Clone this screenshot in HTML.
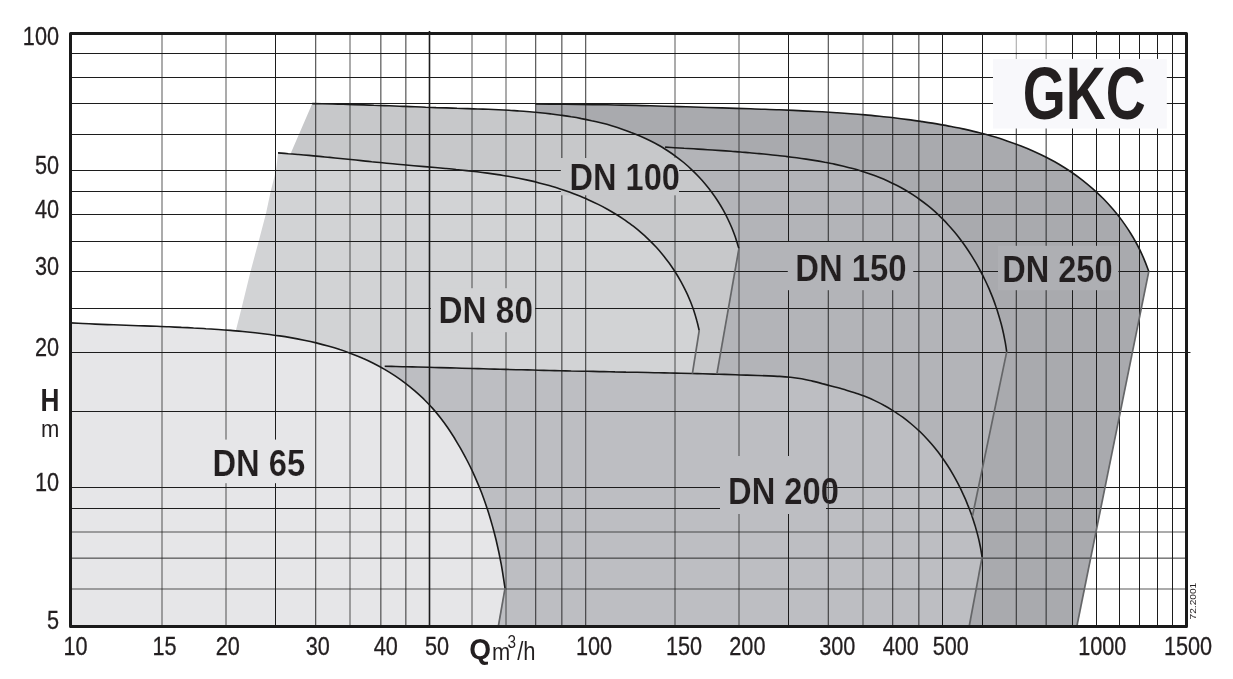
<!DOCTYPE html>
<html lang="en"><head><meta charset="utf-8"><title>GKC - Q/H performance chart</title>
<style>html,body{margin:0;padding:0;background:#fff}body{width:1233px;height:679px;overflow:hidden}svg{display:block}text{font-family:"Liberation Sans",Arial,Helvetica,sans-serif;fill:#231f20}.b{font-weight:bold}</style></head><body>
<svg width="1233" height="679" viewBox="0 0 1233 679">
<rect width="1233" height="679" fill="#fff"/>
<g stroke="none">
<path fill="#a9aaae" d="M535.5 104.0 C537.9 104.0 545.1 104.0 549.9 104.1 C554.7 104.1 559.5 104.1 564.3 104.2 C569.1 104.2 573.8 104.3 578.6 104.4 C583.4 104.4 588.2 104.5 593.0 104.6 C597.8 104.6 602.6 104.7 607.3 104.8 C612.1 104.9 616.9 105.0 621.7 105.1 C626.5 105.2 631.3 105.3 636.0 105.4 C640.8 105.6 645.6 105.7 650.4 105.8 C655.2 105.9 659.9 106.1 664.7 106.2 C669.5 106.3 674.3 106.5 679.0 106.6 C683.8 106.7 688.6 106.9 693.4 107.0 C698.1 107.2 702.9 107.3 707.7 107.5 C712.4 107.6 717.2 107.8 722.0 107.9 C726.8 108.1 731.5 108.2 736.3 108.4 C741.1 108.5 745.9 108.7 750.6 108.8 C755.4 109.0 760.2 109.2 764.9 109.3 C769.7 109.5 774.5 109.7 779.3 109.8 C784.0 110.0 788.8 110.2 793.6 110.4 C798.3 110.6 803.1 110.9 807.9 111.1 C812.7 111.3 817.4 111.6 822.2 111.8 C827.0 112.1 831.7 112.4 836.5 112.7 C841.3 113.0 846.1 113.4 850.8 113.7 C855.6 114.1 860.4 114.5 865.2 114.9 C869.9 115.3 874.7 115.8 879.5 116.3 C884.3 116.7 889.1 117.3 893.8 117.8 C898.6 118.4 903.4 119.0 908.2 119.6 C913.0 120.2 917.7 120.9 922.5 121.6 C927.3 122.3 932.1 123.1 936.9 123.9 C941.6 124.7 946.4 125.5 951.2 126.5 C955.9 127.4 960.6 128.4 965.4 129.4 C970.1 130.5 974.8 131.6 979.4 132.8 C984.1 134.0 988.7 135.2 993.3 136.6 C997.9 137.9 1002.5 139.4 1007.0 140.9 C1011.5 142.4 1016.0 144.0 1020.4 145.8 C1024.8 147.5 1029.2 149.3 1033.5 151.2 C1037.8 153.1 1042.0 155.1 1046.2 157.3 C1050.4 159.4 1054.5 161.7 1058.6 164.0 C1062.6 166.4 1066.6 168.9 1070.5 171.5 C1074.4 174.2 1078.2 176.9 1082.0 179.8 C1085.7 182.7 1089.3 185.7 1092.9 188.8 C1096.4 191.9 1099.8 195.2 1103.2 198.5 C1106.5 201.9 1109.7 205.4 1112.8 209.0 C1115.9 212.6 1118.9 216.3 1121.7 220.1 C1124.5 224.0 1127.3 227.9 1129.8 232.0 C1132.4 236.0 1134.8 240.2 1137.1 244.5 C1139.4 248.8 1141.5 253.1 1143.4 257.6 C1145.4 262.1 1147.9 269.1 1148.8 271.4 L1076.9 626.0 L535 626 Z"/>
<path fill="#b3b4b8" d="M665.1 147.1 C666.7 147.2 671.4 147.5 674.6 147.7 C677.8 147.9 680.9 148.1 684.1 148.3 C687.2 148.4 690.4 148.6 693.5 148.8 C696.6 149.0 699.8 149.2 702.9 149.4 C706.0 149.6 709.2 149.8 712.3 150.0 C715.4 150.2 718.5 150.4 721.6 150.6 C724.8 150.9 727.9 151.1 731.0 151.3 C734.1 151.5 737.2 151.8 740.4 152.0 C743.5 152.3 746.6 152.5 749.7 152.8 C752.8 153.1 756.0 153.3 759.1 153.6 C762.2 153.9 765.3 154.2 768.4 154.5 C771.6 154.9 774.7 155.2 777.8 155.5 C781.0 155.9 784.1 156.2 787.2 156.6 C790.4 157.0 793.5 157.4 796.7 157.8 C799.8 158.2 803.0 158.7 806.1 159.1 C809.3 159.6 812.4 160.1 815.6 160.6 C818.7 161.1 821.8 161.7 825.0 162.3 C828.1 162.8 831.2 163.5 834.3 164.1 C837.4 164.8 840.5 165.5 843.6 166.2 C846.7 167.0 849.7 167.8 852.8 168.6 C855.8 169.4 858.8 170.3 861.8 171.2 C864.8 172.2 867.8 173.2 870.8 174.2 C873.7 175.3 876.7 176.4 879.6 177.5 C882.5 178.7 885.3 179.9 888.2 181.2 C891.0 182.5 893.8 183.9 896.6 185.3 C899.3 186.7 902.1 188.2 904.8 189.8 C907.5 191.4 910.1 193.0 912.7 194.7 C915.3 196.4 917.9 198.1 920.4 200.0 C923.0 201.8 925.4 203.7 927.9 205.7 C930.3 207.6 932.7 209.6 935.0 211.7 C937.3 213.8 939.6 216.0 941.8 218.2 C944.1 220.4 946.2 222.6 948.3 225.0 C950.5 227.3 952.5 229.7 954.5 232.1 C956.5 234.5 958.5 237.0 960.4 239.5 C962.3 242.0 964.2 244.6 966.0 247.2 C967.8 249.8 969.5 252.4 971.2 255.1 C972.9 257.8 974.5 260.5 976.1 263.2 C977.7 266.0 979.2 268.7 980.7 271.5 C982.2 274.3 983.6 277.1 985.0 280.0 C986.4 282.8 987.7 285.7 989.0 288.6 C990.2 291.5 991.4 294.4 992.6 297.4 C993.7 300.3 994.8 303.3 995.8 306.3 C996.9 309.2 997.8 312.2 998.7 315.2 C999.6 318.2 1000.5 321.3 1001.3 324.3 C1002.1 327.3 1002.8 330.4 1003.5 333.5 C1004.1 336.5 1004.7 339.6 1005.3 342.7 C1005.8 345.7 1006.5 350.4 1006.7 351.9 L949.7 626.0 L662.5 626 Z"/>
<path fill="#c7c8ca" d="M312.3 103.6 C314.0 103.6 319.1 103.7 322.5 103.8 C325.9 103.8 329.3 103.9 332.7 104.0 C336.1 104.1 339.6 104.2 343.0 104.3 C346.4 104.4 349.8 104.5 353.3 104.6 C356.7 104.7 360.1 104.8 363.6 104.9 C367.0 105.0 370.4 105.1 373.9 105.3 C377.3 105.4 380.8 105.5 384.2 105.6 C387.7 105.7 391.1 105.9 394.6 106.0 C398.0 106.1 401.5 106.3 405.0 106.4 C408.4 106.5 411.9 106.7 415.3 106.8 C418.8 106.9 422.3 107.0 425.7 107.2 C429.2 107.3 432.7 107.4 436.1 107.6 C439.6 107.7 443.1 107.8 446.5 107.9 C450.0 108.0 453.5 108.1 457.0 108.3 C460.4 108.4 463.9 108.5 467.4 108.6 C470.8 108.7 474.3 108.8 477.8 109.0 C481.3 109.1 484.7 109.2 488.2 109.3 C491.7 109.5 495.1 109.6 498.6 109.8 C502.1 110.0 505.5 110.1 509.0 110.3 C512.5 110.5 515.9 110.8 519.4 111.0 C522.8 111.2 526.3 111.5 529.8 111.8 C533.2 112.1 536.7 112.4 540.1 112.7 C543.6 113.1 547.0 113.5 550.5 113.9 C553.9 114.3 557.4 114.7 560.8 115.2 C564.2 115.7 567.7 116.2 571.1 116.8 C574.5 117.3 578.0 117.9 581.4 118.6 C584.8 119.2 588.2 119.9 591.6 120.7 C595.0 121.4 598.3 122.2 601.7 123.1 C605.0 123.9 608.4 124.8 611.6 125.8 C614.9 126.8 618.2 127.8 621.5 128.9 C624.7 130.0 627.9 131.1 631.1 132.4 C634.3 133.6 637.4 134.9 640.5 136.2 C643.7 137.6 646.7 139.0 649.7 140.5 C652.8 142.0 655.8 143.6 658.7 145.3 C661.6 147.0 664.5 148.7 667.3 150.5 C670.2 152.4 673.0 154.3 675.7 156.3 C678.4 158.3 681.1 160.4 683.7 162.5 C686.3 164.7 688.8 166.9 691.3 169.3 C693.8 171.6 696.2 174.0 698.5 176.5 C700.9 179.0 703.2 181.6 705.4 184.2 C707.6 186.8 709.7 189.5 711.7 192.3 C713.8 195.1 715.7 197.9 717.6 200.8 C719.5 203.7 721.3 206.7 723.0 209.7 C724.7 212.7 726.3 215.8 727.8 219.0 C729.3 222.1 730.8 225.3 732.1 228.5 C733.4 231.8 734.7 235.1 735.8 238.4 C736.9 241.8 738.4 246.9 738.9 248.6 L716.9 373.8 L716.5 382 L281 382 L291.2 152.3 Z"/>
<path fill="#d2d3d5" d="M278.0 152.9 C279.7 153.0 284.8 153.4 288.3 153.7 C291.7 153.9 295.1 154.2 298.6 154.5 C302.0 154.8 305.5 155.1 308.9 155.4 C312.4 155.8 315.8 156.1 319.3 156.4 C322.8 156.7 326.3 157.1 329.7 157.4 C333.2 157.8 336.7 158.1 340.2 158.5 C343.7 158.8 347.2 159.2 350.7 159.5 C354.2 159.9 357.7 160.2 361.2 160.6 C364.7 160.9 368.2 161.3 371.7 161.7 C375.2 162.0 378.7 162.4 382.3 162.7 C385.8 163.1 389.3 163.4 392.8 163.7 C396.3 164.1 399.8 164.4 403.4 164.7 C406.9 165.0 410.4 165.4 413.9 165.7 C417.4 166.0 420.9 166.3 424.5 166.6 C428.0 166.9 431.5 167.2 435.0 167.5 C438.5 167.8 442.0 168.2 445.5 168.5 C449.0 168.8 452.6 169.1 456.1 169.5 C459.6 169.8 463.1 170.2 466.5 170.6 C470.0 171.0 473.5 171.4 477.0 171.8 C480.5 172.2 484.0 172.7 487.5 173.1 C490.9 173.6 494.4 174.1 497.9 174.6 C501.3 175.2 504.8 175.7 508.2 176.3 C511.7 177.0 515.1 177.6 518.6 178.3 C522.0 179.0 525.4 179.7 528.8 180.4 C532.3 181.2 535.7 182.0 539.1 182.9 C542.5 183.8 545.9 184.7 549.2 185.6 C552.6 186.6 556.0 187.6 559.3 188.7 C562.7 189.8 566.0 190.9 569.3 192.1 C572.6 193.3 575.8 194.5 579.1 195.8 C582.3 197.1 585.5 198.5 588.7 199.9 C591.9 201.3 595.0 202.8 598.2 204.4 C601.3 205.9 604.3 207.5 607.4 209.2 C610.4 210.9 613.4 212.7 616.3 214.5 C619.3 216.3 622.1 218.2 625.0 220.1 C627.8 222.1 630.6 224.1 633.3 226.2 C636.1 228.4 638.7 230.5 641.4 232.8 C644.0 235.0 646.5 237.4 649.0 239.8 C651.5 242.2 653.9 244.7 656.3 247.3 C658.6 249.8 660.9 252.5 663.1 255.2 C665.3 257.9 667.4 260.7 669.5 263.5 C671.5 266.4 673.5 269.3 675.4 272.2 C677.3 275.2 679.1 278.2 680.8 281.3 C682.5 284.4 684.1 287.5 685.6 290.7 C687.2 293.8 688.6 297.1 689.9 300.3 C691.3 303.6 692.5 306.9 693.7 310.2 C694.8 313.6 695.8 316.9 696.7 320.3 C697.7 323.7 698.8 328.9 699.2 330.6 L692.4 373.6 L692.5 382 L236.8 382 L236.0 329.9 L241.4 308.7 L250.4 271.9 L258.7 241.2 L266.0 213.4 L270.6 191.8 L276.1 170.1 Z"/>
<path fill="#bdbec2" d="M384.7 366.2 C386.5 366.2 392.0 366.4 395.7 366.5 C399.4 366.6 403.0 366.7 406.7 366.7 C410.4 366.8 414.0 366.9 417.7 367.0 C421.3 367.1 425.0 367.2 428.7 367.3 C432.3 367.4 436.0 367.5 439.6 367.6 C443.3 367.7 447.0 367.8 450.6 367.9 C454.3 368.0 457.9 368.1 461.6 368.2 C465.2 368.3 468.9 368.4 472.6 368.5 C476.2 368.6 479.9 368.7 483.5 368.8 C487.2 368.9 490.8 369.0 494.5 369.1 C498.1 369.2 501.8 369.3 505.4 369.4 C509.1 369.5 512.8 369.6 516.4 369.7 C520.1 369.8 523.7 369.8 527.4 369.9 C531.0 370.0 534.7 370.1 538.3 370.2 C542.0 370.3 545.6 370.4 549.3 370.5 C552.9 370.6 556.6 370.6 560.2 370.7 C563.9 370.8 567.5 370.9 571.2 371.0 C574.8 371.0 578.5 371.1 582.1 371.2 C585.8 371.3 589.4 371.3 593.1 371.4 C596.7 371.5 600.4 371.6 604.0 371.6 C607.7 371.7 611.3 371.8 615.0 371.9 C618.6 371.9 622.3 372.0 625.9 372.1 C629.6 372.1 633.2 372.2 636.9 372.3 C640.5 372.4 644.2 372.4 647.9 372.5 C651.5 372.6 655.2 372.7 658.8 372.7 C662.5 372.8 666.1 372.9 669.8 373.0 C673.4 373.1 677.1 373.1 680.7 373.2 C684.4 373.3 688.1 373.4 691.7 373.5 C695.4 373.6 699.0 373.7 702.7 373.8 C706.3 373.9 710.0 374.0 713.7 374.1 C717.3 374.2 721.0 374.3 724.6 374.4 C728.3 374.5 732.0 374.6 735.6 374.7 C739.3 374.9 743.0 375.0 746.6 375.1 C750.3 375.2 754.0 375.4 757.6 375.5 C761.3 375.6 765.0 375.8 768.6 375.9 C772.3 376.1 776.0 376.2 779.6 376.4 C783.3 376.6 787.0 376.9 790.6 377.3 C794.3 377.7 797.9 378.2 801.6 378.8 C805.2 379.4 808.8 380.3 812.4 381.1 C816.0 382.0 819.6 382.9 823.2 383.9 C826.8 384.8 830.3 385.8 833.9 386.8 C837.4 387.7 840.9 388.6 844.4 389.6 C847.8 390.6 851.3 391.6 854.7 392.7 C858.1 393.9 861.5 395.0 864.8 396.3 C868.1 397.6 871.4 399.0 874.7 400.6 C877.9 402.1 881.1 403.7 884.3 405.5 C887.5 407.2 890.6 409.1 893.6 411.1 C896.7 413.0 899.7 415.1 902.7 417.2 C905.6 419.4 908.5 421.7 911.3 424.0 C914.1 426.4 916.9 428.8 919.6 431.3 C922.2 433.9 924.8 436.5 927.3 439.2 C929.8 441.9 932.2 444.6 934.5 447.5 C936.8 450.3 939.1 453.2 941.2 456.2 C943.3 459.1 945.4 462.2 947.4 465.3 C949.4 468.3 951.3 471.5 953.1 474.7 C954.9 477.9 956.7 481.1 958.4 484.4 C960.1 487.7 961.7 491.0 963.2 494.4 C964.8 497.7 966.3 501.1 967.6 504.6 C969.0 508.0 970.3 511.4 971.6 514.9 C972.8 518.4 973.9 521.9 975.0 525.4 C976.0 528.9 977.0 532.4 977.9 535.9 C978.8 539.4 979.6 543.0 980.3 546.5 C981.0 550.0 981.8 555.3 982.1 557.1 L969.3 626.0 L384.8 626 Z"/>
<path fill="#e6e6e8" d="M70.5 322.9 C72.6 323.0 78.8 323.3 82.9 323.5 C87.0 323.7 91.2 323.9 95.3 324.1 C99.4 324.3 103.5 324.4 107.6 324.6 C111.7 324.7 115.8 324.9 119.9 325.0 C124.0 325.2 128.1 325.3 132.2 325.5 C136.3 325.6 140.4 325.8 144.5 325.9 C148.6 326.0 152.7 326.2 156.8 326.3 C160.9 326.5 165.0 326.7 169.1 326.8 C173.2 327.0 177.3 327.2 181.4 327.4 C185.4 327.5 189.5 327.7 193.6 328.0 C197.7 328.2 201.8 328.4 205.9 328.7 C210.0 328.9 214.1 329.2 218.2 329.5 C222.3 329.8 226.4 330.1 230.5 330.4 C234.6 330.7 238.7 331.1 242.8 331.5 C246.9 331.9 251.0 332.3 255.1 332.7 C259.2 333.2 263.3 333.7 267.4 334.2 C271.5 334.7 275.6 335.3 279.7 335.9 C283.8 336.5 287.9 337.2 291.9 337.9 C296.0 338.6 300.1 339.4 304.1 340.2 C308.1 341.0 312.2 341.9 316.2 342.9 C320.2 343.9 324.1 344.9 328.1 346.0 C332.0 347.1 336.0 348.3 339.8 349.6 C343.7 350.8 347.6 352.2 351.4 353.7 C355.2 355.1 359.0 356.6 362.7 358.3 C366.5 359.9 370.2 361.7 373.8 363.5 C377.5 365.4 381.1 367.3 384.6 369.4 C388.2 371.5 391.7 373.7 395.1 375.9 C398.5 378.2 401.9 380.6 405.2 383.1 C408.4 385.6 411.7 388.2 414.8 390.9 C417.9 393.6 420.9 396.3 423.9 399.2 C426.8 402.1 429.7 405.0 432.4 408.1 C435.1 411.1 437.7 414.2 440.2 417.5 C442.7 420.7 445.1 423.9 447.4 427.3 C449.7 430.6 451.9 434.1 454.1 437.5 C456.2 441.0 458.3 444.6 460.4 448.1 C462.4 451.7 464.4 455.3 466.3 459.0 C468.3 462.7 470.1 466.4 471.9 470.1 C473.6 473.8 475.3 477.6 476.9 481.4 C478.5 485.1 480.1 489.0 481.6 492.8 C483.0 496.7 484.4 500.5 485.8 504.4 C487.1 508.3 488.4 512.2 489.6 516.2 C490.8 520.1 491.9 524.1 493.0 528.0 C494.1 532.0 495.1 536.0 496.1 540.0 C497.0 544.0 497.9 548.0 498.8 552.0 C499.6 556.0 500.4 560.1 501.2 564.1 C501.9 568.2 502.6 572.2 503.2 576.3 C503.9 580.3 504.7 586.4 505.0 588.4 L498.4 626.0 L70.5 626 Z"/>
</g>
<g stroke="#1c1c1c" stroke-width="1" fill="none">
<line x1="162.00" y1="33" x2="162.00" y2="626" stroke-width="0.74"/>
<line x1="226.00" y1="33" x2="226.00" y2="626" stroke-width="0.74"/>
<line x1="275.50" y1="33" x2="275.50" y2="626"/>
<line x1="315.72" y1="33" x2="315.72" y2="626" stroke-width="0.9"/>
<line x1="350.00" y1="33" x2="350.00" y2="626" stroke-width="0.74"/>
<line x1="380.86" y1="33" x2="380.86" y2="626" stroke-width="0.9"/>
<line x1="405.86" y1="33" x2="405.86" y2="626" stroke-width="0.9"/>
<line x1="429.50" y1="31" x2="429.50" y2="626" stroke-width="1.6"/>
<line x1="472.00" y1="33" x2="472.00" y2="626" stroke-width="0.74"/>
<line x1="506.00" y1="33" x2="506.00" y2="626" stroke-width="0.74"/>
<line x1="535.72" y1="33" x2="535.72" y2="626" stroke-width="0.9"/>
<line x1="561.86" y1="33" x2="561.86" y2="626" stroke-width="0.9"/>
<line x1="585.72" y1="33" x2="585.72" y2="626" stroke-width="0.9"/>
<line x1="675.00" y1="33" x2="675.00" y2="626" stroke-width="0.74"/>
<line x1="739.00" y1="33" x2="739.00" y2="626" stroke-width="0.74"/>
<line x1="788.50" y1="33" x2="788.50" y2="626"/>
<line x1="828.28" y1="33" x2="828.28" y2="626" stroke-width="0.9"/>
<line x1="863.00" y1="33" x2="863.00" y2="626" stroke-width="0.74"/>
<line x1="892.72" y1="33" x2="892.72" y2="626" stroke-width="0.9"/>
<line x1="918.86" y1="33" x2="918.86" y2="626" stroke-width="0.9"/>
<line x1="942.50" y1="33" x2="942.50" y2="626"/>
<line x1="982.50" y1="33" x2="982.50" y2="626"/>
<line x1="1016.28" y1="33" x2="1016.28" y2="626" stroke-width="0.9"/>
<line x1="1046.14" y1="33" x2="1046.14" y2="626" stroke-width="0.9"/>
<line x1="1072.50" y1="33" x2="1072.50" y2="626"/>
<line x1="1096.50" y1="31" x2="1096.50" y2="626"/>
<line x1="1119.50" y1="33" x2="1119.50" y2="626"/>
<line x1="1139.50" y1="33" x2="1139.50" y2="626"/>
<line x1="1157.50" y1="33" x2="1157.50" y2="626"/>
<line x1="1172.50" y1="33" x2="1172.50" y2="626"/>
<line x1="70" y1="53.50" x2="1187.5" y2="53.50"/>
<line x1="70" y1="77.50" x2="1187.5" y2="77.50"/>
<line x1="70" y1="103.50" x2="1187.5" y2="103.50"/>
<line x1="70" y1="134.50" x2="1187.5" y2="134.50"/>
<line x1="70" y1="170.50" x2="1187.5" y2="170.50"/>
<line x1="70" y1="191.50" x2="1187.5" y2="191.50"/>
<line x1="70" y1="214.50" x2="1187.5" y2="214.50"/>
<line x1="70" y1="241.50" x2="1187.5" y2="241.50"/>
<line x1="70" y1="271.50" x2="1187.5" y2="271.50"/>
<line x1="70" y1="308.50" x2="1187.5" y2="308.50"/>
<line x1="70" y1="352.50" x2="1190.5" y2="352.50"/>
<line x1="70" y1="411.50" x2="1187.5" y2="411.50"/>
<line x1="70" y1="487.50" x2="1187.5" y2="487.50"/>
<line x1="70" y1="508.50" x2="1187.5" y2="508.50"/>
<line x1="70" y1="532.00" x2="1187.5" y2="532.00" stroke-width="0.74"/>
<line x1="70" y1="558.14" x2="1187.5" y2="558.14" stroke-width="0.9"/>
<line x1="70" y1="589.00" x2="1187.5" y2="589.00" stroke-width="0.74"/>
</g>
<g stroke="none">
<rect x="209" y="439.6" width="100" height="43.6" fill="#e6e6e8"/>
<rect x="431" y="288.2" width="104" height="44" fill="#d2d3d5"/>
<rect x="560.8" y="158" width="118.2" height="37.3" fill="#c7c8ca"/>
<rect x="787.8" y="242" width="125.4" height="48.2" fill="#b3b4b8"/>
<rect x="998" y="245.8" width="120.4" height="44.4" fill="#aeafb3"/>
<rect x="720" y="456" width="106" height="58" fill="#bdbec2"/>
<rect x="993" y="58.9" width="173.8" height="69.6" fill="#f8f8fb"/>
<rect x="1014" y="35.2" width="5" height="17.6" fill="#fff" fill-opacity="0.55"/>
<rect x="1014" y="54.2" width="5" height="4.7" fill="#fff" fill-opacity="0.55"/>
<rect x="1044" y="35.2" width="5" height="17.6" fill="#fff" fill-opacity="0.45"/>
<rect x="1044" y="54.2" width="5" height="4.7" fill="#fff" fill-opacity="0.45"/>
</g>
<g fill="none" stroke="#1a1a1a" stroke-width="1.6" stroke-linecap="butt" stroke-linejoin="round">
<path d="M535.5 104.0 C537.9 104.0 545.1 104.0 549.9 104.1 C554.7 104.1 559.5 104.1 564.3 104.2 C569.1 104.2 573.8 104.3 578.6 104.4 C583.4 104.4 588.2 104.5 593.0 104.6 C597.8 104.6 602.6 104.7 607.3 104.8 C612.1 104.9 616.9 105.0 621.7 105.1 C626.5 105.2 631.3 105.3 636.0 105.4 C640.8 105.6 645.6 105.7 650.4 105.8 C655.2 105.9 659.9 106.1 664.7 106.2 C669.5 106.3 674.3 106.5 679.0 106.6 C683.8 106.7 688.6 106.9 693.4 107.0 C698.1 107.2 702.9 107.3 707.7 107.5 C712.4 107.6 717.2 107.8 722.0 107.9 C726.8 108.1 731.5 108.2 736.3 108.4 C741.1 108.5 745.9 108.7 750.6 108.8 C755.4 109.0 760.2 109.2 764.9 109.3 C769.7 109.5 774.5 109.7 779.3 109.8 C784.0 110.0 788.8 110.2 793.6 110.4 C798.3 110.6 803.1 110.9 807.9 111.1 C812.7 111.3 817.4 111.6 822.2 111.8 C827.0 112.1 831.7 112.4 836.5 112.7 C841.3 113.0 846.1 113.4 850.8 113.7 C855.6 114.1 860.4 114.5 865.2 114.9 C869.9 115.3 874.7 115.8 879.5 116.3 C884.3 116.7 889.1 117.3 893.8 117.8 C898.6 118.4 903.4 119.0 908.2 119.6 C913.0 120.2 917.7 120.9 922.5 121.6 C927.3 122.3 932.1 123.1 936.9 123.9 C941.6 124.7 946.4 125.5 951.2 126.5 C955.9 127.4 960.6 128.4 965.4 129.4 C970.1 130.5 974.8 131.6 979.4 132.8 C984.1 134.0 988.7 135.2 993.3 136.6 C997.9 137.9 1002.5 139.4 1007.0 140.9 C1011.5 142.4 1016.0 144.0 1020.4 145.8 C1024.8 147.5 1029.2 149.3 1033.5 151.2 C1037.8 153.1 1042.0 155.1 1046.2 157.3 C1050.4 159.4 1054.5 161.7 1058.6 164.0 C1062.6 166.4 1066.6 168.9 1070.5 171.5 C1074.4 174.2 1078.2 176.9 1082.0 179.8 C1085.7 182.7 1089.3 185.7 1092.9 188.8 C1096.4 191.9 1099.8 195.2 1103.2 198.5 C1106.5 201.9 1109.7 205.4 1112.8 209.0 C1115.9 212.6 1118.9 216.3 1121.7 220.1 C1124.5 224.0 1127.3 227.9 1129.8 232.0 C1132.4 236.0 1134.8 240.2 1137.1 244.5 C1139.4 248.8 1141.5 253.1 1143.4 257.6 C1145.4 262.1 1147.9 269.1 1148.8 271.4"/>
<path d="M665.1 147.1 C666.7 147.2 671.4 147.5 674.6 147.7 C677.8 147.9 680.9 148.1 684.1 148.3 C687.2 148.4 690.4 148.6 693.5 148.8 C696.6 149.0 699.8 149.2 702.9 149.4 C706.0 149.6 709.2 149.8 712.3 150.0 C715.4 150.2 718.5 150.4 721.6 150.6 C724.8 150.9 727.9 151.1 731.0 151.3 C734.1 151.5 737.2 151.8 740.4 152.0 C743.5 152.3 746.6 152.5 749.7 152.8 C752.8 153.1 756.0 153.3 759.1 153.6 C762.2 153.9 765.3 154.2 768.4 154.5 C771.6 154.9 774.7 155.2 777.8 155.5 C781.0 155.9 784.1 156.2 787.2 156.6 C790.4 157.0 793.5 157.4 796.7 157.8 C799.8 158.2 803.0 158.7 806.1 159.1 C809.3 159.6 812.4 160.1 815.6 160.6 C818.7 161.1 821.8 161.7 825.0 162.3 C828.1 162.8 831.2 163.5 834.3 164.1 C837.4 164.8 840.5 165.5 843.6 166.2 C846.7 167.0 849.7 167.8 852.8 168.6 C855.8 169.4 858.8 170.3 861.8 171.2 C864.8 172.2 867.8 173.2 870.8 174.2 C873.7 175.3 876.7 176.4 879.6 177.5 C882.5 178.7 885.3 179.9 888.2 181.2 C891.0 182.5 893.8 183.9 896.6 185.3 C899.3 186.7 902.1 188.2 904.8 189.8 C907.5 191.4 910.1 193.0 912.7 194.7 C915.3 196.4 917.9 198.1 920.4 200.0 C923.0 201.8 925.4 203.7 927.9 205.7 C930.3 207.6 932.7 209.6 935.0 211.7 C937.3 213.8 939.6 216.0 941.8 218.2 C944.1 220.4 946.2 222.6 948.3 225.0 C950.5 227.3 952.5 229.7 954.5 232.1 C956.5 234.5 958.5 237.0 960.4 239.5 C962.3 242.0 964.2 244.6 966.0 247.2 C967.8 249.8 969.5 252.4 971.2 255.1 C972.9 257.8 974.5 260.5 976.1 263.2 C977.7 266.0 979.2 268.7 980.7 271.5 C982.2 274.3 983.6 277.1 985.0 280.0 C986.4 282.8 987.7 285.7 989.0 288.6 C990.2 291.5 991.4 294.4 992.6 297.4 C993.7 300.3 994.8 303.3 995.8 306.3 C996.9 309.2 997.8 312.2 998.7 315.2 C999.6 318.2 1000.5 321.3 1001.3 324.3 C1002.1 327.3 1002.8 330.4 1003.5 333.5 C1004.1 336.5 1004.7 339.6 1005.3 342.7 C1005.8 345.7 1006.5 350.4 1006.7 351.9"/>
<path d="M312.3 103.6 C314.0 103.6 319.1 103.7 322.5 103.8 C325.9 103.8 329.3 103.9 332.7 104.0 C336.1 104.1 339.6 104.2 343.0 104.3 C346.4 104.4 349.8 104.5 353.3 104.6 C356.7 104.7 360.1 104.8 363.6 104.9 C367.0 105.0 370.4 105.1 373.9 105.3 C377.3 105.4 380.8 105.5 384.2 105.6 C387.7 105.7 391.1 105.9 394.6 106.0 C398.0 106.1 401.5 106.3 405.0 106.4 C408.4 106.5 411.9 106.7 415.3 106.8 C418.8 106.9 422.3 107.0 425.7 107.2 C429.2 107.3 432.7 107.4 436.1 107.6 C439.6 107.7 443.1 107.8 446.5 107.9 C450.0 108.0 453.5 108.1 457.0 108.3 C460.4 108.4 463.9 108.5 467.4 108.6 C470.8 108.7 474.3 108.8 477.8 109.0 C481.3 109.1 484.7 109.2 488.2 109.3 C491.7 109.5 495.1 109.6 498.6 109.8 C502.1 110.0 505.5 110.1 509.0 110.3 C512.5 110.5 515.9 110.8 519.4 111.0 C522.8 111.2 526.3 111.5 529.8 111.8 C533.2 112.1 536.7 112.4 540.1 112.7 C543.6 113.1 547.0 113.5 550.5 113.9 C553.9 114.3 557.4 114.7 560.8 115.2 C564.2 115.7 567.7 116.2 571.1 116.8 C574.5 117.3 578.0 117.9 581.4 118.6 C584.8 119.2 588.2 119.9 591.6 120.7 C595.0 121.4 598.3 122.2 601.7 123.1 C605.0 123.9 608.4 124.8 611.6 125.8 C614.9 126.8 618.2 127.8 621.5 128.9 C624.7 130.0 627.9 131.1 631.1 132.4 C634.3 133.6 637.4 134.9 640.5 136.2 C643.7 137.6 646.7 139.0 649.7 140.5 C652.8 142.0 655.8 143.6 658.7 145.3 C661.6 147.0 664.5 148.7 667.3 150.5 C670.2 152.4 673.0 154.3 675.7 156.3 C678.4 158.3 681.1 160.4 683.7 162.5 C686.3 164.7 688.8 166.9 691.3 169.3 C693.8 171.6 696.2 174.0 698.5 176.5 C700.9 179.0 703.2 181.6 705.4 184.2 C707.6 186.8 709.7 189.5 711.7 192.3 C713.8 195.1 715.7 197.9 717.6 200.8 C719.5 203.7 721.3 206.7 723.0 209.7 C724.7 212.7 726.3 215.8 727.8 219.0 C729.3 222.1 730.8 225.3 732.1 228.5 C733.4 231.8 734.7 235.1 735.8 238.4 C736.9 241.8 738.4 246.9 738.9 248.6"/>
<path d="M278.0 152.9 C279.7 153.0 284.8 153.4 288.3 153.7 C291.7 153.9 295.1 154.2 298.6 154.5 C302.0 154.8 305.5 155.1 308.9 155.4 C312.4 155.8 315.8 156.1 319.3 156.4 C322.8 156.7 326.3 157.1 329.7 157.4 C333.2 157.8 336.7 158.1 340.2 158.5 C343.7 158.8 347.2 159.2 350.7 159.5 C354.2 159.9 357.7 160.2 361.2 160.6 C364.7 160.9 368.2 161.3 371.7 161.7 C375.2 162.0 378.7 162.4 382.3 162.7 C385.8 163.1 389.3 163.4 392.8 163.7 C396.3 164.1 399.8 164.4 403.4 164.7 C406.9 165.0 410.4 165.4 413.9 165.7 C417.4 166.0 420.9 166.3 424.5 166.6 C428.0 166.9 431.5 167.2 435.0 167.5 C438.5 167.8 442.0 168.2 445.5 168.5 C449.0 168.8 452.6 169.1 456.1 169.5 C459.6 169.8 463.1 170.2 466.5 170.6 C470.0 171.0 473.5 171.4 477.0 171.8 C480.5 172.2 484.0 172.7 487.5 173.1 C490.9 173.6 494.4 174.1 497.9 174.6 C501.3 175.2 504.8 175.7 508.2 176.3 C511.7 177.0 515.1 177.6 518.6 178.3 C522.0 179.0 525.4 179.7 528.8 180.4 C532.3 181.2 535.7 182.0 539.1 182.9 C542.5 183.8 545.9 184.7 549.2 185.6 C552.6 186.6 556.0 187.6 559.3 188.7 C562.7 189.8 566.0 190.9 569.3 192.1 C572.6 193.3 575.8 194.5 579.1 195.8 C582.3 197.1 585.5 198.5 588.7 199.9 C591.9 201.3 595.0 202.8 598.2 204.4 C601.3 205.9 604.3 207.5 607.4 209.2 C610.4 210.9 613.4 212.7 616.3 214.5 C619.3 216.3 622.1 218.2 625.0 220.1 C627.8 222.1 630.6 224.1 633.3 226.2 C636.1 228.4 638.7 230.5 641.4 232.8 C644.0 235.0 646.5 237.4 649.0 239.8 C651.5 242.2 653.9 244.7 656.3 247.3 C658.6 249.8 660.9 252.5 663.1 255.2 C665.3 257.9 667.4 260.7 669.5 263.5 C671.5 266.4 673.5 269.3 675.4 272.2 C677.3 275.2 679.1 278.2 680.8 281.3 C682.5 284.4 684.1 287.5 685.6 290.7 C687.2 293.8 688.6 297.1 689.9 300.3 C691.3 303.6 692.5 306.9 693.7 310.2 C694.8 313.6 695.8 316.9 696.7 320.3 C697.7 323.7 698.8 328.9 699.2 330.6"/>
<path d="M384.7 366.2 C386.5 366.2 392.0 366.4 395.7 366.5 C399.4 366.6 403.0 366.7 406.7 366.7 C410.4 366.8 414.0 366.9 417.7 367.0 C421.3 367.1 425.0 367.2 428.7 367.3 C432.3 367.4 436.0 367.5 439.6 367.6 C443.3 367.7 447.0 367.8 450.6 367.9 C454.3 368.0 457.9 368.1 461.6 368.2 C465.2 368.3 468.9 368.4 472.6 368.5 C476.2 368.6 479.9 368.7 483.5 368.8 C487.2 368.9 490.8 369.0 494.5 369.1 C498.1 369.2 501.8 369.3 505.4 369.4 C509.1 369.5 512.8 369.6 516.4 369.7 C520.1 369.8 523.7 369.8 527.4 369.9 C531.0 370.0 534.7 370.1 538.3 370.2 C542.0 370.3 545.6 370.4 549.3 370.5 C552.9 370.6 556.6 370.6 560.2 370.7 C563.9 370.8 567.5 370.9 571.2 371.0 C574.8 371.0 578.5 371.1 582.1 371.2 C585.8 371.3 589.4 371.3 593.1 371.4 C596.7 371.5 600.4 371.6 604.0 371.6 C607.7 371.7 611.3 371.8 615.0 371.9 C618.6 371.9 622.3 372.0 625.9 372.1 C629.6 372.1 633.2 372.2 636.9 372.3 C640.5 372.4 644.2 372.4 647.9 372.5 C651.5 372.6 655.2 372.7 658.8 372.7 C662.5 372.8 666.1 372.9 669.8 373.0 C673.4 373.1 677.1 373.1 680.7 373.2 C684.4 373.3 688.1 373.4 691.7 373.5 C695.4 373.6 699.0 373.7 702.7 373.8 C706.3 373.9 710.0 374.0 713.7 374.1 C717.3 374.2 721.0 374.3 724.6 374.4 C728.3 374.5 732.0 374.6 735.6 374.7 C739.3 374.9 743.0 375.0 746.6 375.1 C750.3 375.2 754.0 375.4 757.6 375.5 C761.3 375.6 765.0 375.8 768.6 375.9 C772.3 376.1 776.0 376.2 779.6 376.4 C783.3 376.6 787.0 376.9 790.6 377.3 C794.3 377.7 797.9 378.2 801.6 378.8 C805.2 379.4 808.8 380.3 812.4 381.1 C816.0 382.0 819.6 382.9 823.2 383.9 C826.8 384.8 830.3 385.8 833.9 386.8 C837.4 387.7 840.9 388.6 844.4 389.6 C847.8 390.6 851.3 391.6 854.7 392.7 C858.1 393.9 861.5 395.0 864.8 396.3 C868.1 397.6 871.4 399.0 874.7 400.6 C877.9 402.1 881.1 403.7 884.3 405.5 C887.5 407.2 890.6 409.1 893.6 411.1 C896.7 413.0 899.7 415.1 902.7 417.2 C905.6 419.4 908.5 421.7 911.3 424.0 C914.1 426.4 916.9 428.8 919.6 431.3 C922.2 433.9 924.8 436.5 927.3 439.2 C929.8 441.9 932.2 444.6 934.5 447.5 C936.8 450.3 939.1 453.2 941.2 456.2 C943.3 459.1 945.4 462.2 947.4 465.3 C949.4 468.3 951.3 471.5 953.1 474.7 C954.9 477.9 956.7 481.1 958.4 484.4 C960.1 487.7 961.7 491.0 963.2 494.4 C964.8 497.7 966.3 501.1 967.6 504.6 C969.0 508.0 970.3 511.4 971.6 514.9 C972.8 518.4 973.9 521.9 975.0 525.4 C976.0 528.9 977.0 532.4 977.9 535.9 C978.8 539.4 979.6 543.0 980.3 546.5 C981.0 550.0 981.8 555.3 982.1 557.1"/>
<path d="M70.5 322.9 C72.6 323.0 78.8 323.3 82.9 323.5 C87.0 323.7 91.2 323.9 95.3 324.1 C99.4 324.3 103.5 324.4 107.6 324.6 C111.7 324.7 115.8 324.9 119.9 325.0 C124.0 325.2 128.1 325.3 132.2 325.5 C136.3 325.6 140.4 325.8 144.5 325.9 C148.6 326.0 152.7 326.2 156.8 326.3 C160.9 326.5 165.0 326.7 169.1 326.8 C173.2 327.0 177.3 327.2 181.4 327.4 C185.4 327.5 189.5 327.7 193.6 328.0 C197.7 328.2 201.8 328.4 205.9 328.7 C210.0 328.9 214.1 329.2 218.2 329.5 C222.3 329.8 226.4 330.1 230.5 330.4 C234.6 330.7 238.7 331.1 242.8 331.5 C246.9 331.9 251.0 332.3 255.1 332.7 C259.2 333.2 263.3 333.7 267.4 334.2 C271.5 334.7 275.6 335.3 279.7 335.9 C283.8 336.5 287.9 337.2 291.9 337.9 C296.0 338.6 300.1 339.4 304.1 340.2 C308.1 341.0 312.2 341.9 316.2 342.9 C320.2 343.9 324.1 344.9 328.1 346.0 C332.0 347.1 336.0 348.3 339.8 349.6 C343.7 350.8 347.6 352.2 351.4 353.7 C355.2 355.1 359.0 356.6 362.7 358.3 C366.5 359.9 370.2 361.7 373.8 363.5 C377.5 365.4 381.1 367.3 384.6 369.4 C388.2 371.5 391.7 373.7 395.1 375.9 C398.5 378.2 401.9 380.6 405.2 383.1 C408.4 385.6 411.7 388.2 414.8 390.9 C417.9 393.6 420.9 396.3 423.9 399.2 C426.8 402.1 429.7 405.0 432.4 408.1 C435.1 411.1 437.7 414.2 440.2 417.5 C442.7 420.7 445.1 423.9 447.4 427.3 C449.7 430.6 451.9 434.1 454.1 437.5 C456.2 441.0 458.3 444.6 460.4 448.1 C462.4 451.7 464.4 455.3 466.3 459.0 C468.3 462.7 470.1 466.4 471.9 470.1 C473.6 473.8 475.3 477.6 476.9 481.4 C478.5 485.1 480.1 489.0 481.6 492.8 C483.0 496.7 484.4 500.5 485.8 504.4 C487.1 508.3 488.4 512.2 489.6 516.2 C490.8 520.1 491.9 524.1 493.0 528.0 C494.1 532.0 495.1 536.0 496.1 540.0 C497.0 544.0 497.9 548.0 498.8 552.0 C499.6 556.0 500.4 560.1 501.2 564.1 C501.9 568.2 502.6 572.2 503.2 576.3 C503.9 580.3 504.7 586.4 505.0 588.4"/>
</g>
<g fill="none" stroke="#656668" stroke-width="1.7">
<path d="M1148.8 271.4 L1076.9 626.0"/>
<path d="M1006.7 351.9 L972.4 516.3"/>
<path d="M738.9 248.6 L716.9 373.8"/>
<path d="M699.2 330.6 L692.4 373.6"/>
<path d="M982.1 557.1 L969.3 626.0"/>
<path d="M505.0 588.4 L498.4 626.0"/>
</g>
<rect x="70.50" y="33.50" width="1116.00" height="593.00" fill="none" stroke="#1a1a1a" stroke-width="3.0" stroke-linejoin="round"/>
<text class="b" transform="translate(212.40 476.00) scale(0.872 1)" font-size="37.6" stroke="#e6e6e8" stroke-width="0.20">DN 65</text>
<text class="b" transform="translate(438.50 323.00) scale(0.886 1)" font-size="37.6" stroke="#d2d3d5" stroke-width="0.20">DN 80</text>
<text class="b" transform="translate(569.50 189.70) scale(0.866 1)" font-size="37.6" stroke="#c7c8ca" stroke-width="0.20">DN 100</text>
<text class="b" transform="translate(795.20 281.00) scale(0.874 1)" font-size="37.6" stroke="#b3b4b8" stroke-width="0.20">DN 150</text>
<text class="b" transform="translate(1002.20 282.00) scale(0.866 1)" font-size="37.6" stroke="#aeafb3" stroke-width="0.20">DN 250</text>
<text class="b" transform="translate(728.10 504.40) scale(0.869 1)" font-size="37.6" stroke="#bdbec2" stroke-width="0.20">DN 200</text>
<text class="b" transform="translate(1022.70 118.80) scale(0.745 1)" font-size="74.3">GKC</text>
<text transform="translate(59.00 44.70) scale(0.870 1)" font-size="24.9" text-anchor="end" stroke="#231f20" stroke-width="0.30">100</text>
<text transform="translate(59.00 174.30) scale(0.870 1)" font-size="24.9" text-anchor="end" stroke="#231f20" stroke-width="0.30">50</text>
<text transform="translate(59.00 218.10) scale(0.870 1)" font-size="24.9" text-anchor="end" stroke="#231f20" stroke-width="0.30">40</text>
<text transform="translate(59.00 274.60) scale(0.870 1)" font-size="24.9" text-anchor="end" stroke="#231f20" stroke-width="0.30">30</text>
<text transform="translate(59.00 355.90) scale(0.870 1)" font-size="24.9" text-anchor="end" stroke="#231f20" stroke-width="0.30">20</text>
<text transform="translate(59.00 490.90) scale(0.870 1)" font-size="24.9" text-anchor="end" stroke="#231f20" stroke-width="0.30">10</text>
<text transform="translate(59.00 629.10) scale(0.870 1)" font-size="24.9" text-anchor="end" stroke="#231f20" stroke-width="0.30">5</text>
<text class="b" transform="translate(40.40 411.00) scale(0.820 1)" font-size="32.0">H</text>
<text transform="translate(40.90 437.10) scale(0.890 1)" font-size="24.7">m</text>
<text transform="translate(75.60 655.10) scale(0.870 1)" font-size="24.9" text-anchor="middle" stroke="#231f20" stroke-width="0.30">10</text>
<text transform="translate(164.60 655.10) scale(0.870 1)" font-size="24.9" text-anchor="middle" stroke="#231f20" stroke-width="0.30">15</text>
<text transform="translate(227.80 655.10) scale(0.870 1)" font-size="24.9" text-anchor="middle" stroke="#231f20" stroke-width="0.30">20</text>
<text transform="translate(317.80 655.10) scale(0.870 1)" font-size="24.9" text-anchor="middle" stroke="#231f20" stroke-width="0.30">30</text>
<text transform="translate(385.70 655.10) scale(0.870 1)" font-size="24.9" text-anchor="middle" stroke="#231f20" stroke-width="0.30">40</text>
<text transform="translate(437.00 655.10) scale(0.870 1)" font-size="24.9" text-anchor="middle" stroke="#231f20" stroke-width="0.30">50</text>
<text transform="translate(594.10 655.10) scale(0.870 1)" font-size="24.9" text-anchor="middle" stroke="#231f20" stroke-width="0.30">100</text>
<text transform="translate(684.10 655.10) scale(0.870 1)" font-size="24.9" text-anchor="middle" stroke="#231f20" stroke-width="0.30">150</text>
<text transform="translate(747.40 655.10) scale(0.870 1)" font-size="24.9" text-anchor="middle" stroke="#231f20" stroke-width="0.30">200</text>
<text transform="translate(837.20 655.10) scale(0.870 1)" font-size="24.9" text-anchor="middle" stroke="#231f20" stroke-width="0.30">300</text>
<text transform="translate(900.80 655.10) scale(0.870 1)" font-size="24.9" text-anchor="middle" stroke="#231f20" stroke-width="0.30">400</text>
<text transform="translate(950.70 655.10) scale(0.870 1)" font-size="24.9" text-anchor="middle" stroke="#231f20" stroke-width="0.30">500</text>
<text transform="translate(1102.30 655.10) scale(0.870 1)" font-size="24.9" text-anchor="middle" stroke="#231f20" stroke-width="0.30">1000</text>
<text transform="translate(1188.00 655.10) scale(0.870 1)" font-size="24.9" text-anchor="middle" stroke="#231f20" stroke-width="0.30">1500</text>
<text class="b" transform="translate(469.20 659.20) scale(0.980 1)" font-size="28.6">Q</text>
<text transform="translate(492.00 659.50) scale(0.890 1)" font-size="24.6">m</text>
<text transform="translate(507.60 648.20) scale(0.810 1)" font-size="18.9">3</text>
<text transform="translate(517.20 659.50) scale(0.880 1)" font-size="25.0">/h</text>
<text transform="translate(1196.0 619.4) rotate(-90) scale(1.08 1)" font-size="9.4">72.2001</text>
</svg></body></html>
